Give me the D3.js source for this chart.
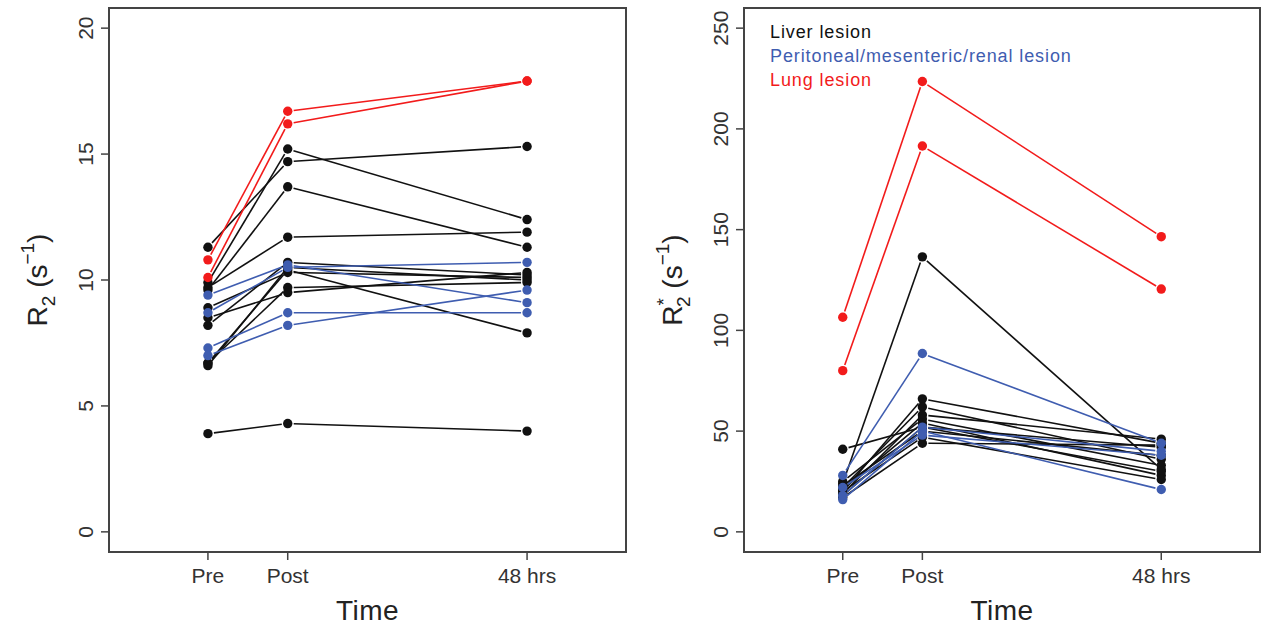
<!doctype html>
<html>
<head>
<meta charset="utf-8">
<script src="https://cdn.jsdelivr.net/npm/d3@7"></script>
<style>
  body { margin: 0; background: #fff; }
  text { font-family: "Liberation Sans", Arial, sans-serif; fill: #222; }
</style>
</head>
<body>
<script>
// time points (x positions as plotted)
var timeLabels = ["Pre", "Post", "48 hrs"];
var timeX = [1, 2, 5];

// R2 (s^-1), one row per lesion: [pre, post, 48 hrs]
var r2Liver = [
  [11.3, 14.7, 15.3],
  [9.9, 15.2, 12.4],
  [9.6, 13.7, 11.3],
  [9.7, 11.7, 11.9],
  [8.2, 10.7, 10.2],
  [6.7, 10.4, 7.9],
  [6.6, 10.5, 10.0],
  [8.9, 10.3, 10.1],
  [6.7, 9.7, 9.9],
  [8.5, 9.5, 10.3],
  [3.9, 4.3, 4.0]
];
var r2Perit = [
  [9.4, 10.6, 9.1],
  [8.7, 10.5, 10.7],
  [7.3, 8.7, 8.7],
  [7.0, 8.2, 9.6]
];
var r2Lung = [
  [10.8, 16.7, 17.9],
  [10.1, 16.2, 17.9]
];

// R2* (s^-1)
var r2sLiver = [
  [24, 136.5, 31],
  [41, 52, 42],
  [20, 66, 44],
  [22, 62, 36],
  [19, 58, 46],
  [25, 56, 33],
  [21, 54, 28],
  [18, 52, 30],
  [23, 50, 38],
  [20, 47, 26],
  [17, 44, 43]
];
var r2sPerit = [
  [28, 88.5, 44],
  [16, 50, 21],
  [18, 52, 40],
  [22, 48, 38]
];
var r2sLung = [
  [106.5, 223.5, 146.5],
  [80, 191.5, 120.5]
];

var leftTicks = [0, 5, 10, 15, 20];
var rightTicks = [0, 50, 100, 150, 200, 250];

var legendLabels = ["Liver lesion", "Peritoneal/mesenteric/renal lesion", "Lung lesion"];
var colors = ["#111", "#3f5db0", "#f21b1b"];

var W = 1269, H = 629;
var svg = d3.select("body").append("svg").attr("width", W).attr("height", H);

function panel(box, ymax, ticks, groups, titleX, withStar, legend) {
  var x = d3.scaleLinear().domain([-0.24, 6.24]).range([box.l, box.r]);
  var pad = ymax * 0.04;
  var y = d3.scaleLinear().domain([-pad, ymax + pad]).range([box.b, box.t]);
  var g = svg.append("g");

  // lines with a small gap around each point (like R type="b")
  var gap = 6;
  groups.forEach(function(rows, gi) {
    rows.forEach(function(row) {
      for (var i = 0; i < row.length - 1; i++) {
        var x1 = x(timeX[i]), y1 = y(row[i]), x2 = x(timeX[i + 1]), y2 = y(row[i + 1]);
        var dx = x2 - x1, dy = y2 - y1, len = Math.sqrt(dx * dx + dy * dy);
        if (len < 2 * gap) continue;
        var ux = dx / len, uy = dy / len;
        g.append("line")
          .attr("x1", x1 + ux * gap).attr("y1", y1 + uy * gap)
          .attr("x2", x2 - ux * gap).attr("y2", y2 - uy * gap)
          .attr("stroke", colors[gi]).attr("stroke-width", 1.6);
      }
      row.forEach(function(v, i) {
        g.append("circle").attr("cx", x(timeX[i])).attr("cy", y(v)).attr("r", 4.7)
          .attr("fill", colors[gi]);
      });
    });
  });

  // box
  g.append("rect").attr("x", box.l).attr("y", box.t)
    .attr("width", box.r - box.l).attr("height", box.b - box.t)
    .attr("fill", "none").attr("stroke", "#444").attr("stroke-width", 2);

  // y ticks
  ticks.forEach(function(t) {
    g.append("line").attr("x1", box.l - 8).attr("x2", box.l)
      .attr("y1", y(t)).attr("y2", y(t)).attr("stroke", "#444").attr("stroke-width", 1.5);
    g.append("text").attr("transform", "translate(" + (box.l - 24) + "," + y(t) + ") rotate(-90)")
      .attr("text-anchor", "middle").attr("dy", "0.36em")
      .style("font-size", "21px").style("fill", "#333").text(t);
  });

  // x ticks
  timeX.forEach(function(t, i) {
    g.append("line").attr("x1", x(t)).attr("x2", x(t))
      .attr("y1", box.b).attr("y2", box.b + 8).attr("stroke", "#444").attr("stroke-width", 1.5);
    g.append("text").attr("x", x(t)).attr("y", 583).attr("text-anchor", "middle")
      .style("font-size", "21px").style("fill", "#333").text(timeLabels[i]);
  });

  g.append("text").attr("x", (box.l + box.r) / 2).attr("y", 620).attr("text-anchor", "middle")
    .style("font-size", "28px").style("letter-spacing", "0.5px").text("Time");

  // y title
  var cy = (box.t + box.b) / 2;
  var tt = g.append("text")
    .attr("transform", "translate(" + titleX + "," + cy + ") rotate(-90)")
    .attr("text-anchor", "middle").style("font-size", "28px");
  tt.append("tspan").text("R");
  if (withStar) {
    tt.append("tspan").attr("dy", -12).style("font-size", "19px").text("*");
    tt.append("tspan").attr("dx", -9).attr("dy", 20).style("font-size", "19px").text("2");
    tt.append("tspan").attr("dy", -8).text(" (s");
  } else {
    tt.append("tspan").attr("dy", 8).style("font-size", "19px").text("2");
    tt.append("tspan").attr("dy", -8).text(" (s");
  }
  tt.append("tspan").attr("dy", -13).style("font-size", "19px").text("\u22121");
  tt.append("tspan").attr("dy", 13).text(")");

  if (legend) {
    legendLabels.forEach(function(lbl, i) {
      g.append("text").attr("x", box.l + 26).attr("y", 38 + i * 24)
        .style("font-size", "18px").style("letter-spacing", "0.9px")
        .style("fill", colors[i]).text(lbl);
    });
  }
}

panel({l: 109, r: 626, t: 8, b: 552}, 20, leftTicks, [r2Liver, r2Perit, r2Lung], 47, false, false);
panel({l: 744, r: 1260, t: 8, b: 552}, 250, rightTicks, [r2sLiver, r2sPerit, r2sLung], 682, true, true);
</script>
</body>
</html>
